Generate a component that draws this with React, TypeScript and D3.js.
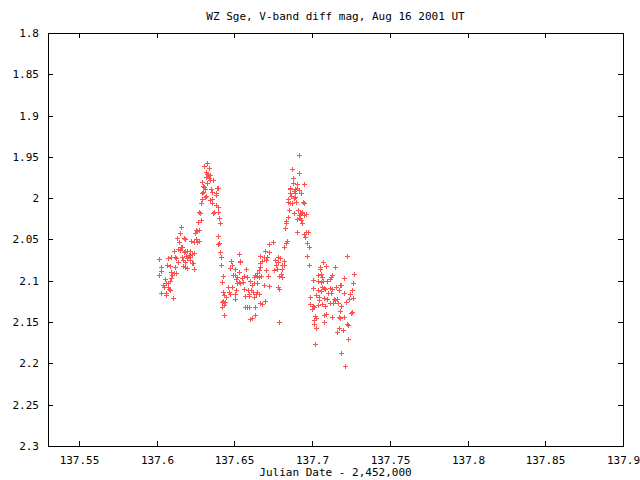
import * as d3 from "d3";
import { useEffect, useRef } from "react";

type Obs = [number, number]; // [julian date - 2,452,000, V diff mag]

const title = "WZ Sge, V-band diff mag, Aug 16 2001 UT";
const xLabel = "Julian Date - 2,452,000";

const xDomain = [137.53, 137.9];
const yDomain = [1.8, 2.3];
const xTicks = [137.55, 137.6, 137.65, 137.7, 137.75, 137.8, 137.85, 137.9];
const yTicks = [1.8, 1.85, 1.9, 1.95, 2, 2.05, 2.1, 2.15, 2.2, 2.25, 2.3];

// first hump: slow rise and the peak near 137.632
const firstHump: Obs[] = [
  [137.6321, 1.9578], [137.6302, 1.961], [137.6338, 1.9638], [137.6315, 1.9679], [137.6325, 1.9707],
  [137.6345, 1.9719], [137.633, 1.9719], [137.6319, 1.9739], [137.6334, 1.9759], [137.6345, 1.978],
  [137.6362, 1.978], [137.6289, 1.98], [137.6323, 1.982], [137.6295, 1.9852], [137.6304, 1.9868],
  [137.6308, 1.9893], [137.6349, 1.9893], [137.63, 1.9921], [137.6293, 1.9941], [137.6385, 1.9881],
  [137.6394, 1.9881], [137.6355, 1.9921], [137.6383, 1.9941], [137.6379, 1.9961], [137.6315, 1.9974],
  [137.6308, 1.9982], [137.6293, 2.0014], [137.634, 2.0022], [137.6357, 2.0014], [137.6353, 2.0054],
  [137.6287, 2.0062], [137.6379, 2.0083], [137.6392, 2.0103], [137.6274, 2.0163], [137.628, 2.0176],
  [137.637, 2.0163], [137.6362, 2.0184], [137.6392, 2.0171], [137.6398, 2.0244], [137.6282, 2.0264],
  [137.6265, 2.0285], [137.6404, 2.0297], [137.625, 2.0386], [137.6259, 2.0394], [137.627, 2.0386],
  [137.6246, 2.0418], [137.6154, 2.0353], [137.6148, 2.0426], [137.6131, 2.0487], [137.6173, 2.0487],
  [137.6182, 2.0499], [137.622, 2.0515], [137.6238, 2.0527], [137.6259, 2.0527], [137.627, 2.0515],
  [137.6255, 2.0499], [137.6143, 2.0535], [137.6156, 2.0588], [137.6165, 2.0596], [137.6135, 2.0616],
  [137.6109, 2.0636], [137.6116, 2.0717], [137.6092, 2.0709], [137.6073, 2.0721], [137.6013, 2.0741],
  [137.6152, 2.0628], [137.6173, 2.0648], [137.6182, 2.0636], [137.6195, 2.064], [137.6212, 2.064],
  [137.6124, 2.0729], [137.6135, 2.0769], [137.6163, 2.0717], [137.6188, 2.0701], [137.6205, 2.0689],
  [137.6227, 2.0676], [137.6238, 2.0668], [137.6212, 2.0717], [137.6195, 2.0729], [137.6169, 2.0749],
  [137.6184, 2.0769], [137.6216, 2.0749], [137.6227, 2.0782], [137.6231, 2.079], [137.6083, 2.0822],
  [137.6064, 2.0814], [137.6024, 2.0838], [137.603, 2.0878], [137.6017, 2.0935], [137.6094, 2.0891],
  [137.6109, 2.0911], [137.6098, 2.0931], [137.612, 2.083], [137.6126, 2.0903], [137.6171, 2.0822],
  [137.618, 2.0838], [137.6195, 2.085], [137.6238, 2.0862], [137.609, 2.0971], [137.6083, 2.1],
  [137.6051, 2.0984], [137.6062, 2.1032], [137.6075, 2.1024], [137.6039, 2.1052], [137.6045, 2.1072],
  [137.6075, 2.1072], [137.6079, 2.1097], [137.6062, 2.1153], [137.6086, 2.1113], [137.6026, 2.1153],
  [137.6058, 2.1169], [137.6103, 2.121],
];

// decline after the first peak and the faint trough
const trough: Obs[] = [
  [137.6392, 2.0458], [137.6402, 2.0539], [137.6396, 2.0555], [137.6404, 2.0648], [137.6411, 2.0709],
  [137.6411, 2.0814], [137.6424, 2.0939], [137.6417, 2.1012], [137.6428, 2.1133], [137.6434, 2.1173],
  [137.6443, 2.1194], [137.6426, 2.1242], [137.6422, 2.1258], [137.6437, 2.1258], [137.643, 2.1287],
  [137.6417, 2.1315], [137.643, 2.1408], [137.6475, 2.0761], [137.6486, 2.0814], [137.6473, 2.0846],
  [137.6505, 2.0858], [137.649, 2.0931], [137.6501, 2.0935], [137.6526, 2.0676], [137.6533, 2.0773],
  [137.6531, 2.0891], [137.6514, 2.0951], [137.6507, 2.0984], [137.6526, 2.1012], [137.6516, 2.1032],
  [137.6509, 2.1113], [137.6501, 2.1165], [137.6505, 2.1226], [137.6462, 2.1133], [137.6469, 2.1161],
  [137.646, 2.1072], [137.6486, 2.1072], [137.6538, 2.0761], [137.6572, 2.0862], [137.663, 2.0931],
  [137.6624, 2.0951], [137.6645, 2.0943], [137.666, 2.0951], [137.6671, 2.0943], [137.6714, 2.0943],
  [137.6559, 2.0943], [137.6547, 2.0971], [137.6555, 2.1012], [137.6538, 2.1032], [137.6581, 2.0951],
  [137.6602, 2.1004], [137.6624, 2.1024], [137.6615, 2.1052], [137.6645, 2.1032], [137.6688, 2.1052],
  [137.672, 2.1064], [137.678, 2.1072], [137.6789, 2.1105], [137.6564, 2.1105], [137.6585, 2.1113],
  [137.6607, 2.1113], [137.6617, 2.1133], [137.6592, 2.1165], [137.657, 2.1186], [137.6645, 2.1133],
  [137.6656, 2.1161], [137.6626, 2.1194], [137.6641, 2.1161], [137.6596, 2.1186], [137.6667, 2.1274],
  [137.6677, 2.1282], [137.657, 2.1315], [137.6581, 2.1323], [137.6592, 2.1315], [137.6634, 2.1315],
  [137.6613, 2.1448], [137.6602, 2.1464], [137.663, 2.1408], [137.6784, 2.1501], [137.6694, 2.1242],
];

// second hump, peak near 137.69
const secondHump: Obs[] = [
  [137.6913, 1.9481], [137.6868, 1.965], [137.6913, 1.9699], [137.6874, 1.9759], [137.6877, 1.982],
  [137.6902, 1.9832], [137.6945, 1.9832], [137.6857, 1.9873], [137.6855, 1.9893], [137.6892, 1.9893],
  [137.6902, 1.9881], [137.6885, 1.9909], [137.6859, 1.9933], [137.6887, 1.9941], [137.6913, 1.9901],
  [137.6926, 1.9941], [137.6866, 1.9974], [137.6889, 1.9982], [137.6844, 2.0006], [137.6881, 1.9994],
  [137.6842, 2.005], [137.6859, 2.0062], [137.6868, 2.0062], [137.6898, 2.0046], [137.6939, 2.0042],
  [137.6949, 2.0054], [137.6849, 2.0143], [137.6881, 2.0184], [137.6907, 2.0143], [137.6919, 2.0176],
  [137.693, 2.0184], [137.6937, 2.0167], [137.696, 2.0192], [137.6945, 2.0204], [137.6915, 2.0208],
  [137.6842, 2.0232], [137.6919, 2.0236], [137.6904, 2.0256], [137.6928, 2.0264], [137.6934, 2.0297],
  [137.6832, 2.0277], [137.6829, 2.0305], [137.6823, 2.0365], [137.6902, 2.041], [137.6945, 2.0434],
  [137.6958, 2.041], [137.6975, 2.041], [137.6956, 2.0474], [137.6967, 2.0547], [137.6977, 2.0588],
  [137.6838, 2.0519], [137.6832, 2.0547], [137.6817, 2.0588], [137.6746, 2.0531], [137.6722, 2.0559],
  [137.6697, 2.064], [137.672, 2.0656], [137.6667, 2.0701], [137.6688, 2.0709], [137.6709, 2.0717],
  [137.6705, 2.0749], [137.6677, 2.0757], [137.6667, 2.079], [137.6782, 2.0709], [137.6791, 2.0729],
  [137.6763, 2.0749], [137.6778, 2.0777], [137.6817, 2.0761], [137.6806, 2.081], [137.6769, 2.081],
  [137.6821, 2.081], [137.6752, 2.087], [137.6701, 2.087], [137.6662, 2.083], [137.6656, 2.087],
  [137.6647, 2.0911], [137.6774, 2.0862], [137.6806, 2.0862], [137.6802, 2.0919], [137.6784, 2.0943],
  [137.6806, 2.0951],
];

// steep fade and the scattered tail
const tail: Obs[] = [
  [137.6964, 2.0701], [137.6977, 2.081], [137.7222, 2.0701], [137.7067, 2.0777], [137.7052, 2.083],
  [137.7048, 2.0862], [137.7091, 2.0822], [137.7144, 2.0838], [137.7039, 2.0931], [137.7059, 2.0919],
  [137.7063, 2.0951], [137.7129, 2.0931], [137.7121, 2.0951], [137.7112, 2.0984], [137.7095, 2.1],
  [137.7072, 2.1], [137.7057, 2.1012], [137.7037, 2.1004], [137.7003, 2.0992], [137.7202, 2.0971],
  [137.7187, 2.1052], [137.7181, 2.1052], [137.7003, 2.1093], [137.7035, 2.1113], [137.7063, 2.1072],
  [137.7074, 2.1093], [137.7054, 2.1125], [137.7084, 2.1105], [137.7112, 2.1085], [137.7127, 2.1105],
  [137.7153, 2.1072], [137.717, 2.1113], [137.7099, 2.1153], [137.7121, 2.1153], [137.7074, 2.1214],
  [137.7095, 2.1226], [137.7138, 2.1226], [137.7157, 2.1226], [137.7144, 2.1234], [137.7042, 2.1194],
  [137.6984, 2.1194], [137.7022, 2.1173], [137.7042, 2.1234], [137.7202, 2.1153], [137.7219, 2.1254],
  [137.7241, 2.1165], [137.7239, 2.1226], [137.6984, 2.1282], [137.7003, 2.1307], [137.6997, 2.1347],
  [137.7009, 2.1315], [137.7035, 2.1295], [137.7063, 2.1282], [137.7084, 2.1307], [137.7112, 2.1266],
  [137.7134, 2.1274], [137.7164, 2.1274], [137.7185, 2.1307], [137.7177, 2.1363], [137.717, 2.1436],
  [137.7181, 2.1456], [137.7202, 2.1436], [137.7127, 2.1436], [137.7091, 2.1396], [137.7078, 2.1416],
  [137.702, 2.1428], [137.7027, 2.1456], [137.7009, 2.1476], [137.7014, 2.1517], [137.7074, 2.1497],
  [137.7022, 2.1577], [137.7224, 2.1517], [137.723, 2.1537], [137.7198, 2.1598], [137.7174, 2.1577],
  [137.7157, 2.1618], [137.7228, 2.1699], [137.7016, 2.1771], [137.7183, 2.188], [137.7209, 2.2026],
  [137.7271, 2.0918], [137.7265, 2.1027], [137.7258, 2.1111], [137.7265, 2.1208], [137.7258, 2.1378],
  [137.7252, 2.139],
];

const W = 640;
const H = 480;
const margin = { top: 33, right: 17, bottom: 34, left: 48 };
const FONT = "'DejaVu Sans Mono', monospace";

export default function App() {
  const svgRef = useRef<SVGSVGElement>(null);

  useEffect(() => {
    if (!svgRef.current) return;
    const svg = d3.select(svgRef.current);
    svg.selectAll("*").remove();

    const x0 = margin.left;
    const x1 = W - margin.right;
    const y0 = margin.top;
    const y1 = H - margin.bottom;

    const x = d3.scaleLinear().domain(xDomain).range([x0, x1]);
    const y = d3.scaleLinear().domain(yDomain).range([y0, y1]);

    svg.append("rect").attr("width", W).attr("height", H).attr("fill", "#fff");

    const fmt = (v: number) => String(+v.toFixed(2));
    const tickLen = 5;

    // x ticks, mirrored on top
    const xt = svg.append("g").attr("shape-rendering", "crispEdges");
    xTicks.forEach((v) => {
      const px = Math.round(x(v)) + 0.5;
      xt.append("line").attr("x1", px).attr("x2", px).attr("y1", y1).attr("y2", y1 - tickLen).attr("stroke", "#000");
      xt.append("line").attr("x1", px).attr("x2", px).attr("y1", y0).attr("y2", y0 + tickLen).attr("stroke", "#000");
      svg.append("text")
        .attr("x", px)
        .attr("y", y1 + 18)
        .attr("text-anchor", "middle")
        .attr("font-family", FONT)
        .attr("font-size", 11)
        .text(fmt(v));
    });

    // y ticks, mirrored on the right
    yTicks.forEach((v) => {
      const py = Math.round(y(v)) + 0.5;
      xt.append("line").attr("x1", x0).attr("x2", x0 + tickLen).attr("y1", py).attr("y2", py).attr("stroke", "#000");
      xt.append("line").attr("x1", x1).attr("x2", x1 - tickLen).attr("y1", py).attr("y2", py).attr("stroke", "#000");
      svg.append("text")
        .attr("x", x0 - 9)
        .attr("y", py)
        .attr("dy", "0.35em")
        .attr("text-anchor", "end")
        .attr("font-family", FONT)
        .attr("font-size", 11)
        .text(fmt(v));
    });

    // frame
    svg.append("rect")
      .attr("x", x0 + 0.5)
      .attr("y", y0 + 0.5)
      .attr("width", x1 - x0)
      .attr("height", y1 - y0)
      .attr("fill", "none")
      .attr("stroke", "#000")
      .attr("shape-rendering", "crispEdges");

    // points drawn as small "+" crosses
    const all = [...firstHump, ...trough, ...secondHump, ...tail];
    svg.append("path")
      .attr("d", all
        .map(([t, m]) => {
          const px = Math.round(x(t));
          const py = Math.round(y(m));
          return `M${px - 2},${py + 0.5}h5M${px + 0.5},${py - 2}v5`;
        })
        .join(""))
      .attr("stroke", "#ff5050")
      .attr("stroke-width", 1)
      .attr("fill", "none")
      .attr("shape-rendering", "crispEdges");

    svg.append("text")
      .attr("x", (x0 + x1) / 2)
      .attr("y", 20)
      .attr("text-anchor", "middle")
      .attr("font-family", FONT)
      .attr("font-size", 11)
      .text(title);

    svg.append("text")
      .attr("x", (x0 + x1) / 2)
      .attr("y", H - 4)
      .attr("text-anchor", "middle")
      .attr("font-family", FONT)
      .attr("font-size", 11)
      .text(xLabel);
  }, []);

  return (
    <svg
      ref={svgRef}
      width={W}
      height={H}
      style={{ position: "absolute", left: 0, top: 0, display: "block" }}
    />
  );
}
